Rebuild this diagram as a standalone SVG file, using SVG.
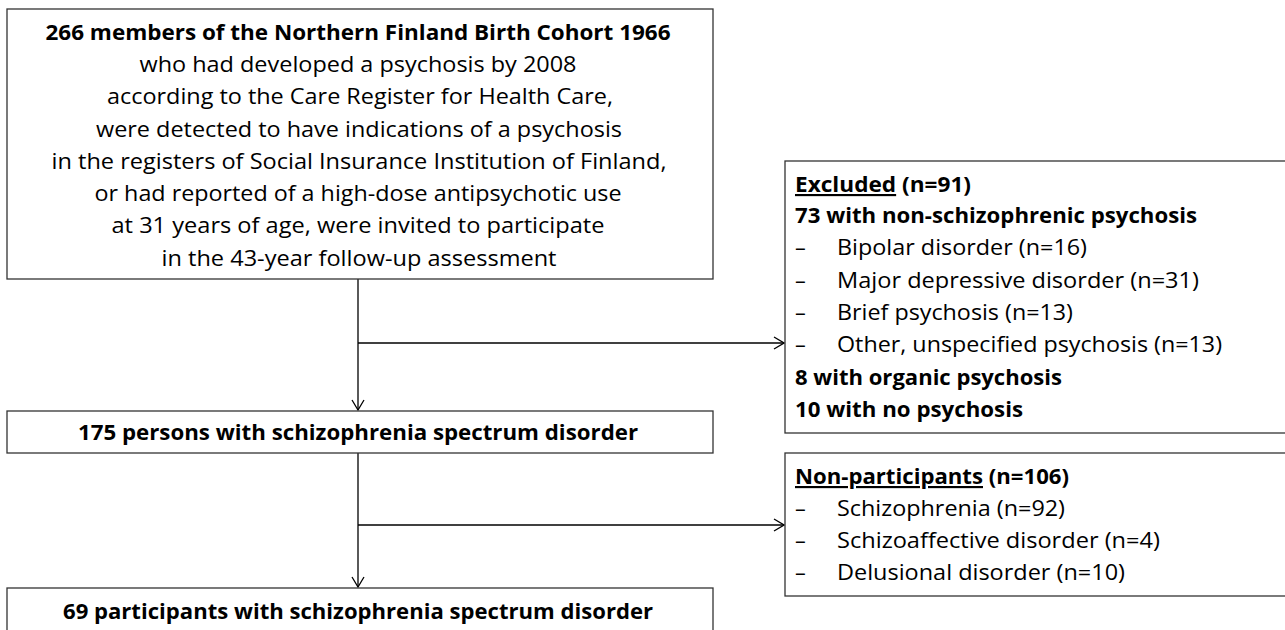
<svg xmlns="http://www.w3.org/2000/svg" width="1285" height="630" viewBox="0 0 1285 630">
<defs>
<marker id="arr" viewBox="0 0 12 14" refX="11" refY="7" markerWidth="12" markerHeight="14" markerUnits="userSpaceOnUse" orient="auto">
<path d="M1,1 L11,7 L1,13" fill="none" stroke="#000" stroke-width="1.3"/>
</marker>
<style>
.box{fill:#fff;stroke:#333;stroke-width:1.3}
.t{font-family:"Open Sans","Liberation Sans",sans-serif;font-size:21.5px;fill:#000}
.b{font-weight:bold}
.c{text-anchor:middle}
.ln{stroke:#000;stroke-width:1.3;fill:none}
</style>
</defs>
<rect width="1285" height="630" fill="#fff"/>
<g id="connectors">
<line class="ln" x1="358" y1="279" x2="358" y2="410" marker-end="url(#arr)"/>
<line class="ln" x1="358" y1="343" x2="784" y2="343" marker-end="url(#arr)"/>
<line class="ln" x1="358" y1="453" x2="358" y2="587" marker-end="url(#arr)"/>
<line class="ln" x1="358" y1="525" x2="784" y2="525" marker-end="url(#arr)"/>
</g>
<g id="node-invited">
<rect class="box" x="7" y="9" width="706" height="270"/>
<text class="t b c" x="358" y="40" textLength="625" lengthAdjust="spacingAndGlyphs">266 members of the Northern Finland Birth Cohort 1966</text>
<text class="t c" x="358" y="72" textLength="437" lengthAdjust="spacingAndGlyphs">who had developed a psychosis by 2008</text>
<text class="t c" x="360" y="104" textLength="506" lengthAdjust="spacingAndGlyphs">according to the Care Register for Health Care,</text>
<text class="t c" x="359" y="137" textLength="526" lengthAdjust="spacingAndGlyphs">were detected to have indications of a psychosis</text>
<text class="t c" x="359" y="169" textLength="615" lengthAdjust="spacingAndGlyphs">in the registers of Social Insurance Institution of Finland,</text>
<text class="t c" x="358" y="201" textLength="527" lengthAdjust="spacingAndGlyphs">or had reported of a high-dose antipsychotic use</text>
<text class="t c" x="358" y="233" textLength="493" lengthAdjust="spacingAndGlyphs">at 31 years of age, were invited to participate</text>
<text class="t c" x="359" y="266" textLength="395" lengthAdjust="spacingAndGlyphs">in the 43-year follow-up assessment</text>
</g>
<g id="node-spectrum">
<rect class="box" x="7" y="411" width="706" height="42"/>
<text class="t b c" x="358" y="440" textLength="560" lengthAdjust="spacingAndGlyphs">175 persons with schizophrenia spectrum disorder</text>
</g>
<g id="node-participants">
<rect class="box" x="7" y="588" width="706" height="60"/>
<text class="t b c" x="358" y="619" textLength="590" lengthAdjust="spacingAndGlyphs">69 participants with schizophrenia spectrum disorder</text>
</g>
<g id="node-excluded">
<rect class="box" x="785" y="161" width="520" height="272"/>
<text class="t b" x="795" y="192" textLength="176" lengthAdjust="spacingAndGlyphs"><tspan text-decoration="underline">Excluded</tspan> (n=91)</text>
<text class="t b" x="795" y="223" textLength="402" lengthAdjust="spacingAndGlyphs">73 with non-schizophrenic psychosis</text>
<text class="t" x="795" y="255">–</text>
<text class="t" x="837" y="255" textLength="250" lengthAdjust="spacingAndGlyphs">Bipolar disorder (n=16)</text>
<text class="t" x="795" y="288">–</text>
<text class="t" x="837" y="288" textLength="362" lengthAdjust="spacingAndGlyphs">Major depressive disorder (n=31)</text>
<text class="t" x="795" y="320">–</text>
<text class="t" x="837" y="320" textLength="236" lengthAdjust="spacingAndGlyphs">Brief psychosis (n=13)</text>
<text class="t" x="795" y="352">–</text>
<text class="t" x="837" y="352" textLength="385" lengthAdjust="spacingAndGlyphs">Other, unspecified psychosis (n=13)</text>
<text class="t b" x="795" y="385" textLength="267" lengthAdjust="spacingAndGlyphs">8 with organic psychosis</text>
<text class="t b" x="795" y="417" textLength="228" lengthAdjust="spacingAndGlyphs">10 with no psychosis</text>
</g>
<g id="node-nonparticipants">
<rect class="box" x="785" y="453" width="520" height="143"/>
<text class="t b" x="795" y="484" textLength="274" lengthAdjust="spacingAndGlyphs"><tspan text-decoration="underline">Non-participants</tspan> (n=106)</text>
<text class="t" x="795" y="516">–</text>
<text class="t" x="837" y="516" textLength="228" lengthAdjust="spacingAndGlyphs">Schizophrenia (n=92)</text>
<text class="t" x="795" y="548">–</text>
<text class="t" x="837" y="548" textLength="323" lengthAdjust="spacingAndGlyphs">Schizoaffective disorder (n=4)</text>
<text class="t" x="795" y="580">–</text>
<text class="t" x="837" y="580" textLength="288" lengthAdjust="spacingAndGlyphs">Delusional disorder (n=10)</text>
</g>
</svg>
